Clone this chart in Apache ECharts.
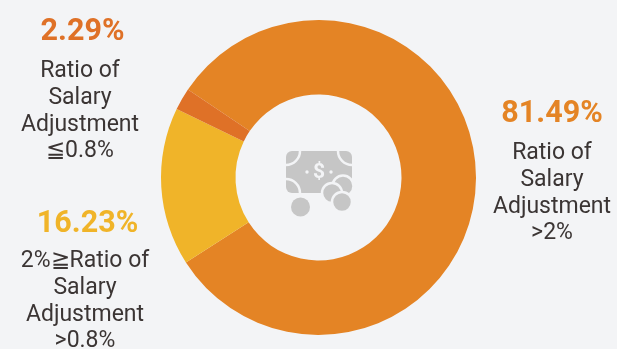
<!DOCTYPE html>
<html>
<head>
<meta charset="utf-8">
<style>html,body{margin:0;padding:0;background:#f3f4f6}#c{width:617px;height:349px}</style>
<script src="https://cdn.jsdelivr.net/npm/echarts@6/dist/echarts.min.js"></script>
</head>
<body>
<div id="c"></div>
<script>
// Salary adjustment ratio shares, in percent
const categories = [
  'Ratio of\nSalary\nAdjustment\n>2%',
  '2%≧Ratio of\nSalary\nAdjustment\n>0.8%',
  'Ratio of\nSalary\nAdjustment\n≦0.8%'
];
const shares = [81.49, 16.23, 2.29];
const sliceColors = ['#e48425', '#f0b429', '#df7127'];
// Caption placement: centre x, top y, height of the percentage line
const captionCentres = [552, 85, 80];
const captionTops = [88, 201, 6];
const valueLineHeights = [52, 47, 52];

const chart = echarts.init(document.getElementById('c'), null, {renderer: 'canvas'});
const font = 'Roboto, "Noto Sans", sans-serif';
const iconFill = '#c6c6c6';
const bg = '#f3f4f6';
const cx = 318.5, cy = 177.5;

chart.setOption({
  backgroundColor: bg,
  animation: false,
  series: [{
    type: 'pie',
    center: [cx, cy],
    radius: [83, 157.5],
    startAngle: 146,
    clockwise: true,
    silent: true,
    data: shares.map((v, i) => ({
      value: v,
      name: categories[i],
      itemStyle: {color: sliceColors[i]},
      label: {rich: {
        v: {fontFamily: font, fontSize: 30.5, fontWeight: 700, color: sliceColors[i], lineHeight: valueLineHeights[i], align: 'center', padding: [0, 0, 0, i === 0 ? 0 : 5]},
        n: {fontFamily: font, fontSize: 23, color: '#3b3534', lineHeight: 26.7, align: 'center'}
      }}
    })),
    label: {
      show: true,
      position: 'outside',
      overflow: 'none',
      width: 200,
      align: 'center',
      verticalAlign: 'top',
      formatter: p => '{v|' + p.value.toFixed(2) + '%}\n' + p.name.split('\n').map(s => '{n|' + s + '}').join('\n')
    },
    labelLine: {show: false},
    labelLayout: p => ({
      x: captionCentres[p.dataIndex],
      y: captionTops[p.dataIndex],
      align: 'center',
      verticalAlign: 'top',
      hideOverlap: false
    })
  }],
  // Banknote-and-coins emblem in the hole of the ring
  graphic: [{
    type: 'group', silent: true,
    children: [
      {type: 'rect', shape: {x: 286, y: 151, width: 66, height: 42, r: 6}, style: {fill: iconFill}},
      {type: 'arc', shape: {cx: 286, cy: 151, r: 14, startAngle: 0, endAngle: Math.PI / 2}, style: {stroke: bg, lineWidth: 2.5, fill: null}},
      {type: 'arc', shape: {cx: 352, cy: 151, r: 14, startAngle: Math.PI / 2, endAngle: Math.PI}, style: {stroke: bg, lineWidth: 2.5, fill: null}},
      {type: 'arc', shape: {cx: 286, cy: 193, r: 14, startAngle: -Math.PI / 2, endAngle: 0}, style: {stroke: bg, lineWidth: 2.5, fill: null}},
      {type: 'text', style: {x: 319, y: 172.5, text: '$', fill: bg, font: '700 21px ' + font, align: 'center', verticalAlign: 'middle'}},
      {type: 'circle', shape: {cx: 307, cy: 172, r: 1.7}, style: {fill: bg}},
      {type: 'circle', shape: {cx: 331, cy: 172, r: 1.7}, style: {fill: bg}},
      {type: 'circle', shape: {cx: 343, cy: 186, r: 10.5}, style: {fill: iconFill, stroke: bg, lineWidth: 2.5}},
      {type: 'circle', shape: {cx: 332, cy: 193, r: 10}, style: {fill: iconFill, stroke: bg, lineWidth: 2.5}},
      {type: 'circle', shape: {cx: 342, cy: 202, r: 10}, style: {fill: iconFill, stroke: bg, lineWidth: 2.5}},
      {type: 'circle', shape: {cx: 300.5, cy: 207, r: 9.5}, style: {fill: iconFill}}
    ]
  }]
});
</script>
</body>
</html>
